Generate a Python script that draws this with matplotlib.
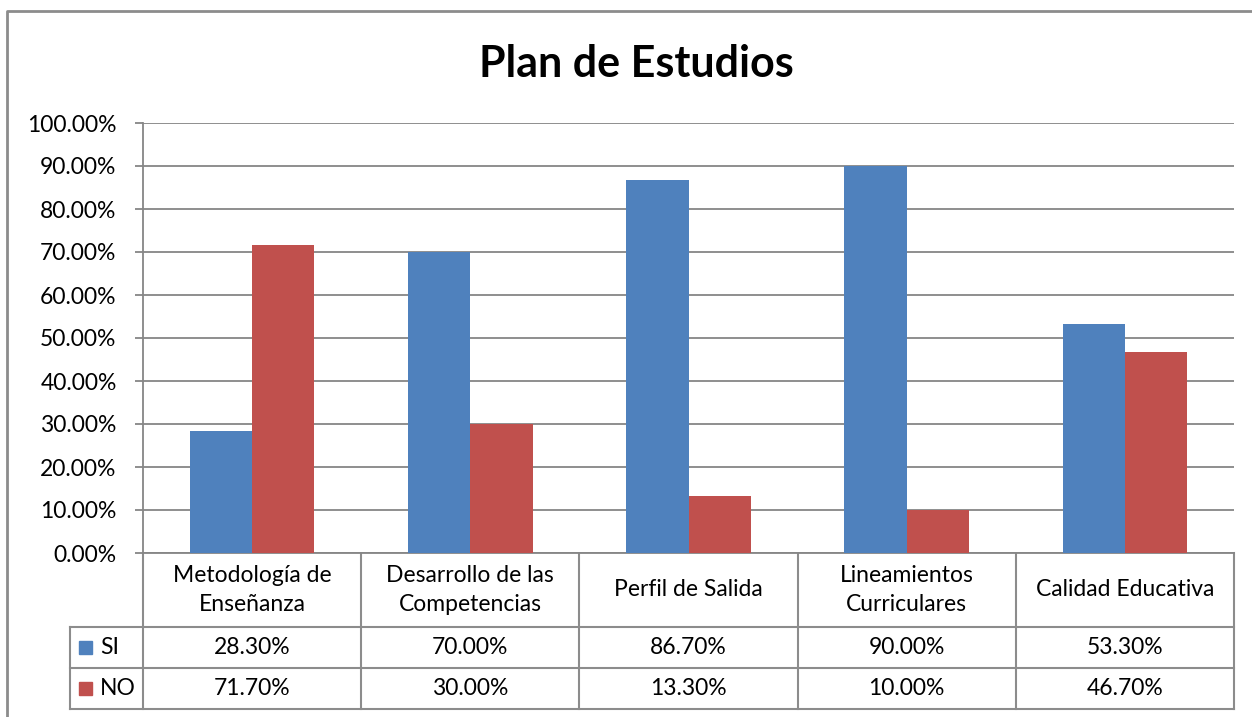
import numpy as np
import matplotlib
matplotlib.use("Agg")
import matplotlib.pyplot as plt

# Datos de la encuesta (porcentajes)
categorias = ["Metodología de\nEnseñanza", "Desarrollo de las\nCompetencias",
              "Perfil de Salida", "Lineamientos\nCurriculares", "Calidad Educativa"]
si = [28.3, 70.0, 86.7, 90.0, 53.3]
no = [71.7, 30.0, 13.3, 10.0, 46.7]
series = ["SI", "NO"]
colores = ["#4F81BD", "#C0504D"]
yticks = np.arange(0, 101, 10)

W, H = 1252, 717
plt.rcParams['font.family'] = ['Lato', 'DejaVu Sans']
fig = plt.figure(figsize=(W / 100, H / 100), dpi=100)
fs = 16.5

# pixel helper
def px(x0, y0, x1, y1):
    return [x0 / W, 1 - y1 / H, (x1 - x0) / W, (y1 - y0) / H]

L, R, T, B = 143, 1234, 123, 553
grid_c = "#868686"

# overlay for frame and table
ov = fig.add_axes([0, 0, 1, 1])
ov.set_xlim(0, W)
ov.set_ylim(H, 0)
ov.axis("off")

ax = fig.add_axes(px(L, T, R, B))
x = np.arange(len(categorias))
w = 1 / 3.5
ax.bar(x - w / 2, si, w, color=colores[0], zorder=3)
ax.bar(x + w / 2, no, w, color=colores[1], zorder=3)
ax.set_xlim(-0.5, len(categorias) - 0.5)
ax.set_ylim(0, 100)
ax.set_yticks(yticks)
ax.set_yticklabels([f"{v:.2f}%" for v in yticks], fontsize=fs)
ax.yaxis.grid(True, color=grid_c, linewidth=1.3, zorder=0)
ax.set_xticks([])
for s in ["top", "right"]:
    ax.spines[s].set_visible(False)
ax.spines["left"].set_color(grid_c)
ax.spines["bottom"].set_color(grid_c)
ax.spines["left"].set_linewidth(1.3)
ax.spines["bottom"].set_linewidth(1.3)
ax.tick_params(axis="y", length=6, width=1.3, color=grid_c, pad=13)

# outer frame (only top/left visible)
ov.plot([7, 7, W], [H, 11, 11], color="#8c8c8c", lw=2)

# data table
col_w = (R - L) / len(categorias)
rows = [B, 627, 668, 709]
lc = "#8c8c8c"
for yy in rows[1:]:
    ov.plot([70, R], [yy, yy], color=lc, lw=1.5)
ov.plot([70, 70], [rows[1], rows[3]], color=lc, lw=1.5)
for i in range(len(categorias) + 1):
    xx = L + i * col_w
    ov.plot([xx, xx], [B, rows[3]], color=lc, lw=1.5)

for i, cat in enumerate(categorias):
    cx = L + (i + 0.5) * col_w
    ov.text(cx, (rows[0] + rows[1]) / 2, cat, ha="center", va="center",
            fontsize=fs, linespacing=1.5)
    ov.text(cx, (rows[1] + rows[2]) / 2, f"{si[i]:.2f}%", ha="center", va="center", fontsize=fs)
    ov.text(cx, (rows[2] + rows[3]) / 2, f"{no[i]:.2f}%", ha="center", va="center", fontsize=fs)

for j, (name, col) in enumerate(zip(series, colores)):
    cy = (rows[j + 1] + rows[j + 2]) / 2
    ov.add_patch(plt.Rectangle((79, cy - 6.5), 13, 13, color=col))
    ov.text(100, cy, name, ha="left", va="center", fontsize=fs)

ov.text(636, 64, "Plan de Estudios", ha="center", va="center",
        fontsize=31, fontweight="bold")

fig.savefig("out.png", dpi=100)
